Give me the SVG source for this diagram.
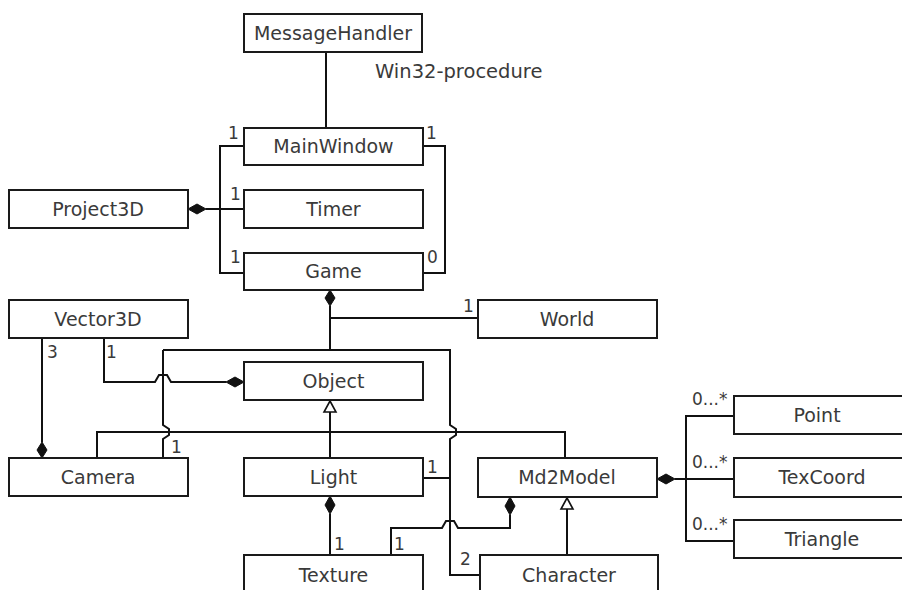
<svg xmlns="http://www.w3.org/2000/svg" width="902" height="590" viewBox="0 0 902 590">
<style>
.box{fill:#fff;stroke:#1a1a1a;stroke-width:2}
.t{font-family:"DejaVu Sans",sans-serif;font-size:19px;fill:#3a3a3a;text-anchor:middle}
.l{font-family:"DejaVu Sans",sans-serif;font-size:17px;fill:#3a3a3a}
.c{fill:none;stroke:#111;stroke-width:2;stroke-linejoin:miter}
.d{fill:#111;stroke:#111;stroke-width:1}
.h{fill:#fff;stroke:#111;stroke-width:1.6}
</style>
<rect width="902" height="590" fill="#fff"/>
<g id="connectors">
<path class="c" d="M326,52 V128"/>
<path class="c" d="M244,146 H220 V273 H244"/>
<path class="c" d="M206,209 H244"/>
<path class="c" d="M423,146 H445 V273 H423"/>
<path class="c" d="M330,306 V350"/>
<path class="c" d="M330,318 H478"/>
<path class="c" d="M163,350 V425 L169,429 V435 L163,439 V458"/>
<path class="c" d="M163,350 H450 V425 L456,429 V435 L450,439 V575 H480"/>
<path class="c" d="M42,338 V442"/>
<path class="c" d="M104,338 V382 H155 L159,375 H167 L171,382 H226"/>
<path class="c" d="M330,412 V458"/>
<path class="c" d="M97,458 V432 H565 V458"/>
<path class="c" d="M423,478 H450"/>
<path class="c" d="M330,514 V555"/>
<path class="c" d="M391,555 V528 H442 L446,521 H454 L458,528 H510 V515"/>
<path class="c" d="M567,509 V555"/>
<path class="c" d="M675,479 H734"/>
<path class="c" d="M734,416 H686 V541 H734"/>
<polygon class="d" points="188,209 197,204 206,209 197,214"/>
<polygon class="d" points="330,290 335,298 330,306 325,298"/>
<polygon class="d" points="42,458 37,450 42,442 47,450"/>
<polygon class="d" points="244,382 235,377 226,382 235,387"/>
<polygon class="d" points="330,496 335,505 330,514 325,505"/>
<polygon class="d" points="510,497 515,506 510,515 505,506"/>
<polygon class="d" points="657,479 666,474 675,479 666,484"/>
<polygon class="h" points="330,401 336,412 324,412"/>
<polygon class="h" points="567,498 573,509 561,509"/>
</g>
<g id="MessageHandler"><rect class="box" x="244" y="14" width="178" height="38"/><text class="t" x="333" y="40">MessageHandler</text></g>
<text class="l" x="375" y="78" style="font-size:19.5px">Win32-procedure</text>
<g id="MainWindow"><rect class="box" x="244" y="128" width="179" height="37"/><text class="t" x="333.5" y="153">MainWindow</text></g>
<g id="Timer"><rect class="box" x="244" y="190" width="179" height="38"/><text class="t" x="333.5" y="216">Timer</text></g>
<g id="Project3D"><rect class="box" x="9" y="190" width="179" height="38"/><text class="t" x="98" y="216">Project3D</text></g>
<g id="Game"><rect class="box" x="244" y="253" width="179" height="37"/><text class="t" x="333.5" y="278">Game</text></g>
<g id="Vector3D"><rect class="box" x="9" y="300" width="179" height="38"/><text class="t" x="98" y="326">Vector3D</text></g>
<g id="World"><rect class="box" x="478" y="300" width="179" height="38"/><text class="t" x="567" y="326">World</text></g>
<g id="Object"><rect class="box" x="244" y="362" width="179" height="38"/><text class="t" x="333.5" y="388">Object</text></g>
<g id="Camera"><rect class="box" x="9" y="458" width="179" height="38"/><text class="t" x="98" y="484">Camera</text></g>
<g id="Light"><rect class="box" x="244" y="458" width="179" height="38"/><text class="t" x="333.5" y="484">Light</text></g>
<g id="Md2Model"><rect class="box" x="478" y="458" width="179" height="39"/><text class="t" x="567" y="484">Md2Model</text></g>
<g id="Point"><rect class="box" x="734" y="396" width="180" height="38"/><text class="t" x="817" y="422">Point</text></g>
<g id="TexCoord"><rect class="box" x="734" y="458" width="180" height="39"/><text class="t" x="822" y="484">TexCoord</text></g>
<g id="Triangle"><rect class="box" x="734" y="520" width="180" height="38"/><text class="t" x="822" y="546">Triangle</text></g>
<g id="Texture"><rect class="box" x="244" y="555" width="179" height="45"/><text class="t" x="333.5" y="582">Texture</text></g>
<g id="Character"><rect class="box" x="480" y="555" width="178" height="45"/><text class="t" x="569" y="582">Character</text></g>
<g id="labels">
<text class="l" x="228" y="139">1</text>
<text class="l" x="426" y="139">1</text>
<text class="l" x="230" y="200">1</text>
<text class="l" x="230" y="263">1</text>
<text class="l" x="427" y="263">0</text>
<text class="l" x="463" y="312">1</text>
<text class="l" x="47" y="358">3</text>
<text class="l" x="106" y="358">1</text>
<text class="l" x="171" y="453">1</text>
<text class="l" x="427" y="473">1</text>
<text class="l" x="334" y="550">1</text>
<text class="l" x="394" y="550">1</text>
<text class="l" x="460" y="565">2</text>
<text class="l" x="692" y="405">0...*</text>
<text class="l" x="692" y="468">0...*</text>
<text class="l" x="692" y="530">0...*</text>
</g>
</svg>
